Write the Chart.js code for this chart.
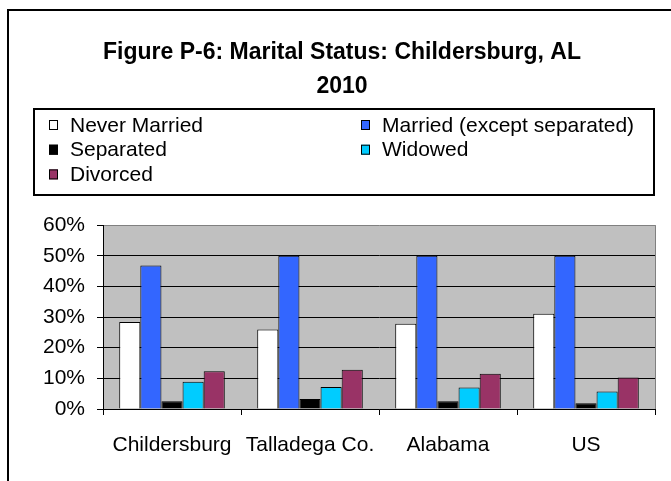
<!DOCTYPE html>
<html>
<head>
<meta charset="utf-8">
<title>Figure P-6: Marital Status: Childersburg, AL 2010</title>
<script src="https://cdn.jsdelivr.net/npm/chart.js@4.4.0/dist/chart.umd.min.js"></script>
<style>
  body { margin: 0; background: #ffffff; }
  canvas { display: block; }
</style>
</head>
<body>
<canvas id="chart" width="671" height="481"></canvas>
<script>
// places on the x axis
const categories = ["Childersburg", "Talladega Co.", "Alabama", "US"];
// percent of population 15+ by marital status
const neverMarried = [28.4, 25.9, 27.8, 31.1];
const married = [46.8, 50.0, 50.0, 50.0];
const separated = [2.5, 3.3, 2.5, 1.9];
const widowed = [8.9, 7.2, 7.0, 5.7];
const divorced = [12.3, 12.8, 11.5, 10.3];
// y axis ticks
const yTicks = [0, 10, 20, 30, 40, 50, 60];

const titleLines = ["Figure P-6: Marital Status: Childersburg, AL", "2010"];
const fontFamily = "'Liberation Sans', Arial, sans-serif";

Chart.defaults.font.family = fontFamily;
Chart.defaults.font.size = 21;
Chart.defaults.color = "#000000";

//Outer frame, grey plot background and the boxed two-column legend
const excelLook = {
  id: "excelLook",
  beforeDraw(chart) {
    const ctx = chart.ctx;
    const a = chart.chartArea;
    ctx.save();
    ctx.fillStyle = "#c0c0c0";
    ctx.fillRect(a.left, a.top, a.right - a.left, a.bottom - a.top);
    ctx.lineWidth = 2;
    ctx.strokeStyle = "#000000";
    ctx.strokeRect(8, 10, 700, 500);
    ctx.restore();
  },
  afterDraw(chart) {
    const ctx = chart.ctx;
    const a = chart.chartArea;
    ctx.save();
    //plot area border on the right
    ctx.strokeStyle = "#808080";
    ctx.lineWidth = 1;
    ctx.beginPath();
    ctx.moveTo(a.right + 0.5, a.top);
    ctx.lineTo(a.right + 0.5, a.bottom);
    ctx.stroke();

    //legend box
    ctx.strokeStyle = "#000000";
    ctx.lineWidth = 2;
    ctx.strokeRect(34, 109, 620, 86);
    ctx.font = "21px " + fontFamily;
    ctx.textBaseline = "middle";
    ctx.textAlign = "left";
    chart.data.datasets.forEach((ds, i) => {
      const col = i % 2;
      const row = Math.floor(i / 2);
      const x = col ? 361 : 49;
      const y = 125 + row * 24.7;
      ctx.fillStyle = ds.backgroundColor;
      ctx.fillRect(x, y - 5, 9, 10);
      ctx.lineWidth = 1;
      ctx.strokeStyle = "#000000";
      ctx.strokeRect(x + 0.5, y - 4.5, 8, 9);
      ctx.fillStyle = "#000000";
      ctx.fillText(ds.label, x + 21, y + 1);
    });
    ctx.restore();
  },
};

const makeSet = (label, data, color) => ({
  label: label,
  data: data,
  backgroundColor: color,
  borderColor: "#000000",
  borderWidth: 1,
  categoryPercentage: 0.765,
  barPercentage: 1.0,
});

new Chart(document.getElementById("chart"), {
  type: "bar",
  plugins: [excelLook],
  data: {
    labels: categories,
    datasets: [
      makeSet("Never Married", neverMarried, "#ffffff"),
      makeSet("Married (except separated)", married, "#3366ff"),
      makeSet("Separated", separated, "#000000"),
      makeSet("Widowed", widowed, "#00ccff"),
      makeSet("Divorced", divorced, "#993366"),
    ],
  },
  options: {
    responsive: false,
    animation: false,
    devicePixelRatio: 1,
    layout: { padding: { left: 29, right: 16, top: 0, bottom: 0 } },
    plugins: {
      legend: { display: false },
      tooltip: { enabled: false },
      title: {
        display: true,
        text: titleLines,
        font: { size: 23, weight: "bold", lineHeight: 1.48 },
        color: "#000000",
        padding: { top: 36, bottom: 121 },
      },
    },
    scales: {
      x: {
        grid: {
          display: true,
          drawOnChartArea: false,
          drawTicks: true,
          tickLength: 6,
          color: "#000000",
          offset: true,
        },
        border: { color: "#000000", width: 1 },
        ticks: { padding: 18, maxRotation: 0, autoSkip: false },
        afterFit: (scale) => { scale.height = 72; },
      },
      y: {
        min: 0,
        max: yTicks[yTicks.length - 1],
        afterBuildTicks: (scale) => {
          scale.ticks = yTicks.map((v) => ({ value: v }));
        },
        grid: {
          color: (c) => (c.tick && c.tick.value === 60 ? "#808080" : "#000000"),
          tickColor: "#000000",
          tickLength: 6,
          lineWidth: 1,
        },
        border: { color: "#000000", width: 1 },
        ticks: {
          padding: 12,
          callback: (v) => v + "%",
        },
        afterFit: (scale) => { scale.width = 74; },
      },
    },
  },
});
</script>
</body>
</html>
